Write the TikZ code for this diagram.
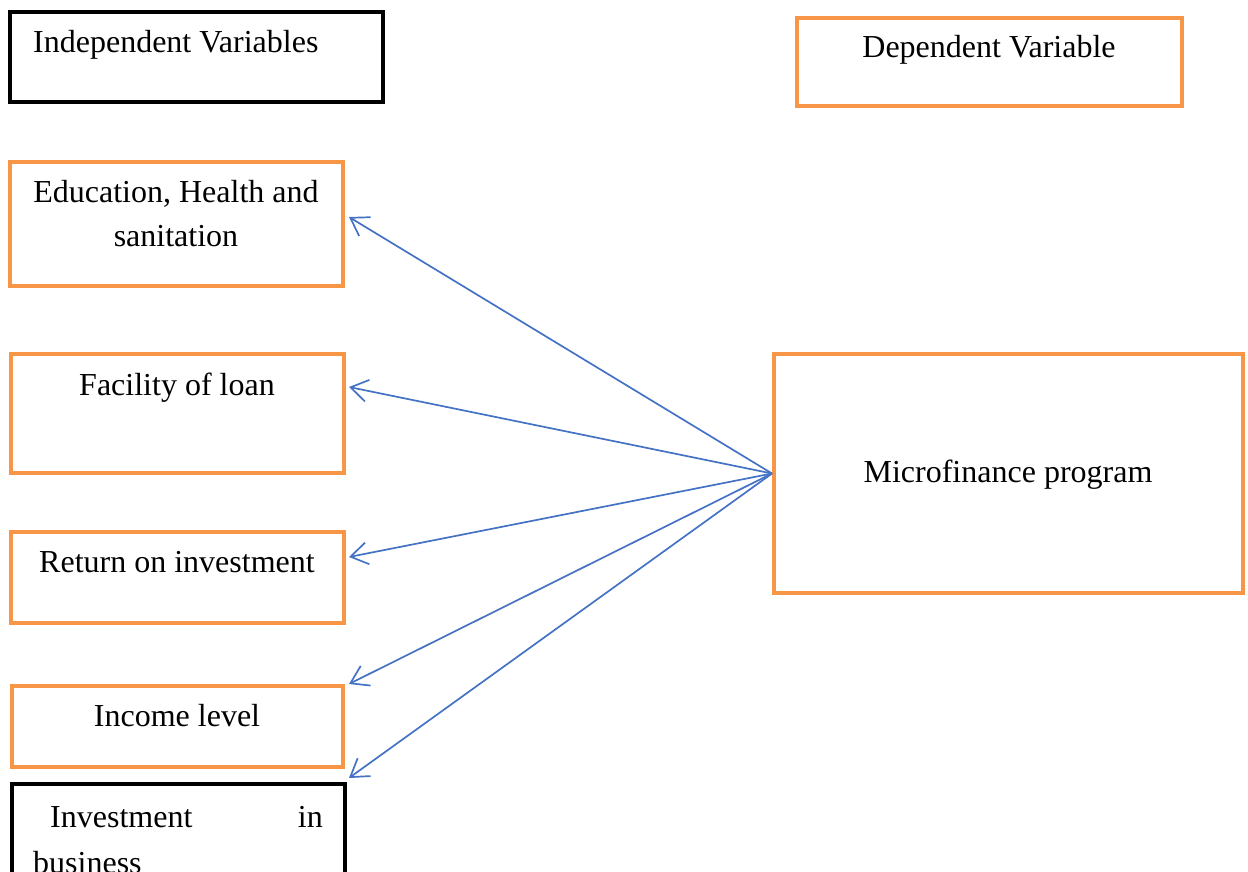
\documentclass[tikz,border=0pt]{standalone}
\usepackage{fontspec}
\setmainfont{Liberation Serif}
\usetikzlibrary{arrows.meta}
\definecolor{boxorange}{HTML}{F79646}
\definecolor{arrowblue}{HTML}{4472C4}
\begin{document}
\begin{tikzpicture}[x=1pt,y=-1pt,
  obox/.style={draw=boxorange,line width=4pt,inner sep=0pt},
  kbox/.style={draw=black,line width=4.5pt,inner sep=0pt},
  txt/.style={inner sep=0pt,font=\fontsize{32}{43}\selectfont},
  link/.style={draw=arrowblue,line width=1.7pt,-{Straight Barb[length=17pt,width=22pt,line width=1.7pt]}}]
\useasboundingbox (0,0) rectangle (1248,872);
% boxes (outline centre lines)
\node[kbox,minimum width=373pt,minimum height=90pt] (indep) at (196.5,57) {};
\node[obox,minimum width=385pt,minimum height=88pt] (dep) at (989.5,62) {};
\node[obox,minimum width=333pt,minimum height=124pt] (edu) at (176.5,224) {};
\node[obox,minimum width=333pt,minimum height=119pt] (fac) at (177.5,413.5) {};
\node[obox,minimum width=333pt,minimum height=91pt] (ret) at (177.5,577.5) {};
\node[obox,minimum width=331pt,minimum height=81pt] (inc) at (177.5,726.5) {};
\node[kbox,minimum width=333pt,minimum height=140pt] (inv) at (178.5,854) {};
\node[obox,minimum width=469pt,minimum height=239pt] (micro) at (1008.5,473.5) {};
% texts
\node[txt,anchor=base west] (tindep) at (33,53) {Independent Variables};
\node[txt,anchor=base] (tdep) at (989,58) {Dependent Variable};
\node[txt,anchor=base] (tedu1) at (176,203) {Education, Health and};
\node[txt,anchor=base] (tedu2) at (176,246) {sanitation};
\node[txt,anchor=base] (tfac) at (177,395) {Facility of loan};
\node[txt,anchor=base] (tret) at (177,572) {Return on investment};
\node[txt,anchor=base] (tinc) at (177,726) {Income level};
\node[txt,anchor=base] (tmicro) at (1008,482) {Microfinance program};
\node[txt,anchor=base west] (tinv1) at (50,827) {Investment};
\node[txt,anchor=base east] (tinv2) at (323,827) {in};
\node[txt,anchor=base west] (tinv3) at (33,873) {business};
% arrow ends
\coordinate (e1) at (349,217);
\coordinate (e2) at (349,387);
\coordinate (e3) at (349,557);
\coordinate (e4) at (349,684);
\coordinate (e5) at (349,778);
\foreach \e in {e1,e2,e3,e4,e5}
  \draw[link] (micro.west) -- (\e);
\end{tikzpicture}
\end{document}
